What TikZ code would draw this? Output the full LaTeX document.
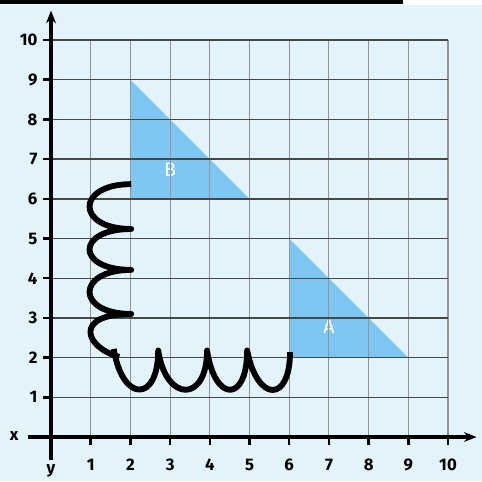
\documentclass[tikz,border=0pt]{standalone}
\usepackage{fontspec}
\setmainfont{Fira Sans}
\usepackage{tikz}
\usetikzlibrary{arrows.meta}

\definecolor{paperblue}{HTML}{E2F3FB}
\definecolor{shapeblue}{HTML}{7DC7F2}

\begin{document}
\begin{tikzpicture}[x=1cm,y=1cm]

\tikzset{
  colline/.style={black!42, line width=0.8pt},
  rowline/.style={black!72, line width=1pt},
  axisline/.style={black, line width=2.2pt,
                   -{Stealth[length=9pt, width=7pt]}},
  tickmark/.style={black, line width=1.8pt},
  numlabel/.style={font=\fontsize{12}{14}\selectfont\bfseries, inner sep=1pt},
  shapelabel/.style={white, font=\fontsize{14}{16}\selectfont},
  scribble/.style={black, line width=4.2pt, line join=round}
}

\useasboundingbox (-1.285,-1.108) rectangle (10.856,11.008);

% Paper and top bar
\fill[paperblue] (-1.285,-1.108) rectangle (10.856,10.88);
\fill[black] (-1.285,10.905) rectangle (8.866,11.008);

% Triangles
\fill[shapeblue] (2,9) -- (2,6) -- (5,6) -- cycle;
\fill[shapeblue] (6,5) -- (6,2) -- (9,2) -- cycle;
\node[shapelabel] (labB) at (3,6.72) {B};
\node[shapelabel] (labA) at (7,2.77) {A};

% Grid
\foreach \i in {1,...,10} {
  \draw[colline] (\i,0) -- (\i,10);
}
\foreach \j in {1,...,10} {
  \draw[rowline] (0,\j) -- (10,\j);
}

% Axes
\coordinate (xstart) at (-0.58,0);
\coordinate (xend) at (10.72,0);
\coordinate (ystart) at (0,-0.58);
\coordinate (yend) at (0,10.74);
\draw[axisline] (xstart) -- (xend);
\draw[axisline] (ystart) -- (yend);
\node[numlabel] (xname) at (-0.93,0.02) {x};
\node[numlabel] (yname) at (0,-0.85) {y};

% Ticks and numbers
\foreach \i in {1,...,10} {
  \draw[tickmark] (\i,0) -- (\i,-0.2);
  \node[numlabel] (xn\i) at (\i,-0.7) {\i};
  \draw[tickmark] (0,\i) -- (-0.2,\i);
  \node[numlabel, anchor=east] (yn\i) at (-0.3,\i) {\i};
}

% Coils
\draw[scribble] (2.02,6.37) .. controls (0.62,6.37) and (0.62,5.24) .. (2.02,5.24)
                            .. controls (0.62,5.24) and (0.62,4.21) .. (2.02,4.21)
                            .. controls (0.62,4.21) and (0.62,3.10) .. (2.02,3.10)
                            .. controls (0.55,3.10) and (0.85,2.25) .. (1.72,2.02);
\draw[scribble] (1.58,2.22) .. controls (1.80,0.86) and (2.70,0.86) .. (2.70,2.18)
                            .. controls (2.90,0.86) and (3.93,0.86) .. (3.93,2.18)
                            .. controls (4.13,0.86) and (4.94,0.86) .. (4.94,2.18)
                            .. controls (5.20,0.86) and (6.02,0.86) .. (6.02,2.14);

\end{tikzpicture}
\end{document}
